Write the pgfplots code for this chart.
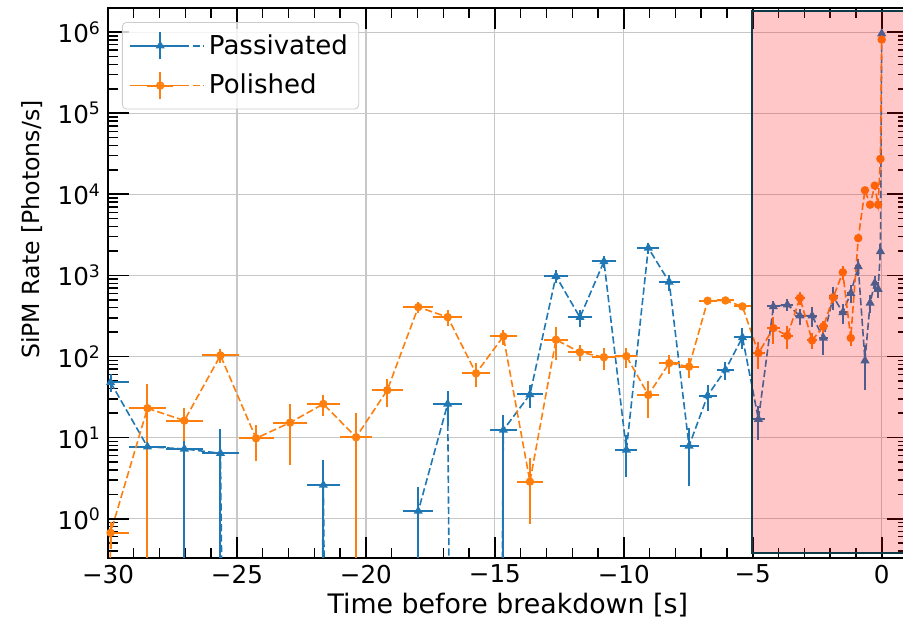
\documentclass[border=0pt]{standalone}
\usepackage{pgfplots}
\pgfplotsset{compat=1.18}
\usepackage{pgfplotstable}
\usepackage{fontspec}
\setmainfont{DejaVu Sans}

\definecolor{tabblue}{HTML}{1F77B4}
\definecolor{taborange}{HTML}{FF7F0E}
\definecolor{spanedge}{HTML}{0E3A48}

% columns: bin centre, rate, bin half-width, upper error, lower error
% a rate of 1e-40 is an empty bin: it falls far below the log axis, so the
% dashed line drops straight out of the frame there
\pgfplotstableread{
x      y      xe    yp     ym
-29.90 48     0.72  12     12
-28.47 7.7    0.72  8      4
-27.04 7.25   0.71  7.5    7.2
-25.64 6.4    0.70  6.3    6.35
-24.26 1e-40  0.68  0      0
-22.94 1e-40  0.66  0      0
-21.65 2.6    0.64  2.7    2.55
-20.38 1e-40  0.62  0      0
-19.17 1e-40  0.60  0      0
-17.97 1.24   0.58  1.24   1.2
-16.83 26     0.56  12     12
-15.73 1e-40  0.54  0      0
-14.67 12.4   0.52  6.6    12.35
-13.64 34     0.51  11     11
-12.63 980    0.48  180    170
-11.70 304    0.47  70     70
-10.77 1487   0.45  250    250
-9.90  7.05   0.43  3.8    3.8
-9.05  2180   0.42  350    350
-8.24  828    0.40  190    190
-7.47  7.9    0.37  5.4    5.4
-6.75  33     0.35  11.8   11.8
-6.06  68.5   0.34  17.5   17.5
-5.40  172    0.32  50     50
-4.78  16.9   0.25  7.5    7.5
-4.20  414    0.24  70     70
-3.66  435    0.23  70     70
-3.17  318    0.21  70     70
-2.70  318    0.20  90     90
-2.26  169    0.19  65     65
-1.88  550    0.17  180    180
-1.51  349    0.15  100    100
-1.20  605    0.13  150    150
-0.91  1290   0.12  300    300
-0.65  89     0.10  50     50
-0.45  458    0.09  110    110
-0.27  805    0.07  170    170
-0.14  677    0.05  150    150
-0.05  1978   0.04  450    450
0.00   9.6e5  0.02  1e4    1e4
}\passivated

\pgfplotstableread{
x      y      xe    yp     ym
-31.30 1e-40  0.72  0      0
-29.90 0.67   0.72  0.25   0.25
-28.47 23     0.72  22.5   22.95
-27.04 16.2   0.71  7      7
-25.64 103    0.70  21     21
-24.26 9.8    0.68  4.7    4.7
-22.94 15.3   0.66  10.7   10.7
-21.65 26     0.64  7.7    7.7
-20.38 10.1   0.62  10     10.05
-19.17 38.5   0.60  14.5   14.5
-17.97 407    0.58  65     65
-16.83 306    0.56  70     70
-15.73 62     0.54  20     20
-14.67 177    0.52  37     37
-13.64 2.86   0.51  2.7    2.0
-12.63 161    0.48  70     70
-11.70 113    0.47  26     26
-10.77 98     0.45  29     29
-9.90  101    0.43  28     28
-9.05  33.6   0.42  16     16
-8.24  83     0.40  22     22
-7.47  75     0.37  20     20
-6.75  487    0.35  40     40
-6.06  491    0.34  40     40
-5.40  414    0.32  40     40
-4.78  110    0.25  40     40
-4.20  224    0.24  80     80
-3.66  180    0.23  55     55
-3.17  527    0.21  90     90
-2.70  158    0.20  35     35
-2.26  235    0.19  40     40
-1.88  535    0.17  80     80
-1.51  1090   0.15  200    200
-1.20  169    0.13  35     35
-0.91  2880   0.12  200    200
-0.65  11200  0.10  500    500
-0.45  7460   0.09  700    700
-0.27  12800  0.07  1200   1200
-0.14  7460   0.05  900    900
-0.05  27400  0.04  1000   1000
0.00   8.1e5  0.02  3000   3000
}\polished

\pgfplotsset{
  rateseries/.style={
    dash pattern=on 3.6pt off 1.6pt, line width=0.8pt,
    mark options={solid},
    /pgfplots/error bars/x dir=both,
    /pgfplots/error bars/x explicit,
    /pgfplots/error bars/y dir=both,
    /pgfplots/error bars/y explicit,
    /pgfplots/error bars/error mark=none,
    /pgfplots/error bars/error bar style={solid, line width=1pt},
  },
  errlegend/.style={
    legend image code/.code={
      \path (0pt,0pt) -- (37pt,0pt);
      \draw[mark=none] (2.5pt,0pt) -- (27.5pt,0pt);
      \draw[solid, mark=none, line width=1pt] (15pt,-6.75pt) -- (15pt,6.75pt);
      \draw[solid, mark=none, line width=1pt] (8.5pt,0pt) -- (21.5pt,0pt);
      \draw[solid] plot coordinates {(15pt,0pt)};
    },
  },
}

\begin{document}
\begin{tikzpicture}
\begin{axis}[
  scale only axis,
  width=399.75pt, height=274.7pt,
  xmin=-30, xmax=1,
  ymode=log, ymin=0.33, ymax=1.97e6,
  xtick={-30,-25,-20,-15,-10,-5,0},
  xticklabels={−30,−25,−20,−15,−10,−5,0},
  minor xtick={-29,-28,-27,-26,-24,-23,-22,-21,-19,-18,-17,-16,-14,-13,-12,-11,-9,-8,-7,-6,-4,-3,-2,-1,1},
  ytick={1,10,100,1000,10000,100000,1000000},
  yticklabels={10\textsuperscript{0},10\textsuperscript{1},10\textsuperscript{2},10\textsuperscript{3},10\textsuperscript{4},10\textsuperscript{5},10\textsuperscript{6}},
  minor ytick={0.4,0.5,0.6,0.7,0.8,0.9,
    2,3,4,5,6,7,8,9,20,30,40,50,60,70,80,90,
    200,300,400,500,600,700,800,900,2000,3000,4000,5000,6000,7000,8000,9000,
    20000,30000,40000,50000,60000,70000,80000,90000,
    200000,300000,400000,500000,600000,700000,800000,900000},
  tick pos=both,
  xticklabel pos=lower, yticklabel pos=left,
  tick align=inside,
  major tick length=10.5pt,
  minor tick length=5pt,
  every tick/.style={black, line width=0.9pt},
  minor tick style={line width=0.7pt},
  xmajorgrids, ymajorgrids,
  major grid style={black!22, line width=0.6pt},
  axis line style={line width=1pt},
  ticklabel style={font=\fontsize{12.3}{14}\selectfont},
  xlabel={Time before breakdown [s]},
  xlabel style={at={(axis description cs:0.5,0)}, anchor=base, yshift=-27.65pt,
    font=\fontsize{13.4}{15}\selectfont},
  ylabel={SiPM Rate [Photons/s]},
  ylabel style={at={(axis description cs:-0.0951,0.597)}, anchor=center,
    font=\fontsize{11.8}{14}\selectfont},
  legend cell align=left,
  legend style={at={(axis description cs:0.0175,0.975)}, anchor=north west,
    draw=black!20, fill=white, fill opacity=0.8, text opacity=1,
    rounded corners=2pt, font=\fontsize{13}{15}\selectfont,
    inner xsep=3.5pt, inner ysep=4pt, row sep=4.5pt},
]
\addplot[tabblue, mark=triangle*, mark size=1.85pt, errlegend, rateseries]
  table[x=x, y=y, x error=xe, y error plus=yp, y error minus=ym] {\passivated};
\addlegendentry{Passivated}
\addplot[taborange, mark=*, mark size=1.7pt, errlegend, rateseries]
  table[x=x, y=y, x error=xe, y error plus=yp, y error minus=ym] {\polished};
\addlegendentry{Polished}

\coordinate (spanlo) at (axis cs:-5.04,0.374);
\coordinate (spanhi) at (axis cs:1.6,1.82e6);
\end{axis}

% shaded window before breakdown, laid over the data
\fill[red, opacity=0.22] (spanlo) rectangle (spanhi);
\draw[spanedge, line width=1.1pt] (spanlo) rectangle (spanhi);

\pgfresetboundingbox
\useasboundingbox (-54pt,-32.15pt) rectangle (397.5pt,278.85pt);
\end{tikzpicture}
\end{document}
